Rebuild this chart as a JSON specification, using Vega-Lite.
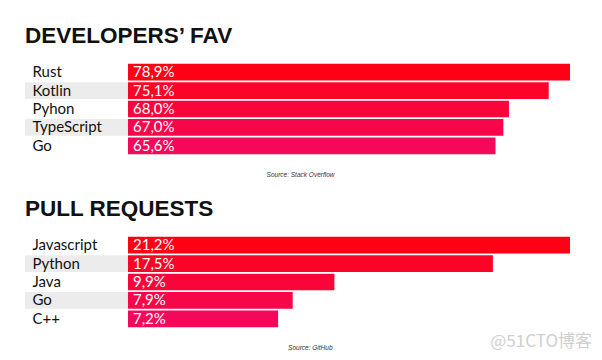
{
  "$schema": "https://vega.github.io/schema/vega-lite/v6.json",
  "background": "white",
  "padding": {"left": 25, "top": 24, "right": 5, "bottom": 5},
  "datasets": {
    "dev": [
      {"rank": 1, "name": "Rust", "value": 78.9, "label": "78,9%"},
      {"rank": 2, "name": "Kotlin", "value": 75.1, "label": "75,1%"},
      {"rank": 3, "name": "Pyhon", "value": 68.0, "label": "68,0%"},
      {"rank": 4, "name": "TypeScript", "value": 67.0, "label": "67,0%"},
      {"rank": 5, "name": "Go", "value": 65.6, "label": "65,6%"}
    ],
    "pr": [
      {"rank": 1, "name": "Javascript", "value": 21.2, "label": "21,2%"},
      {"rank": 2, "name": "Python", "value": 17.5, "label": "17,5%"},
      {"rank": 3, "name": "Java", "value": 9.9, "label": "9,9%"},
      {"rank": 4, "name": "Go", "value": 7.9, "label": "7,9%"},
      {"rank": 5, "name": "C++", "value": 7.2, "label": "7,2%"}
    ]
  },
  "title": {
    "text": "@51CTO博客",
    "orient": "bottom",
    "anchor": "end",
    "font": "Noto Sans CJK SC",
    "fontSize": 17,
    "fontWeight": "normal",
    "color": "#cfcfcf",
    "offset": -16.5,
    "dx": 22
  },
  "spacing": 19,
  "vconcat": [
    {
      "title": {"text": "DEVELOPERS’ FAV", "anchor": "start", "font": "Liberation Sans", "fontWeight": "bold", "fontSize": 22.5, "color": "#111111", "offset": 16},
      "bounds": "flush",
      "spacing": 0,
      "hconcat": [
        {
          "data": {"name": "dev"},
          "width": 103,
          "height": 92,
          "mark": {"type": "bar"},
          "encoding": {
            "y": {"field": "name", "type": "nominal", "sort": null, "axis": null, "scale": {"paddingInner": 0.09, "paddingOuter": 0.045}},
            "color": {"condition": {"test": "datum.rank % 2 == 0", "value": "#ececec"}, "value": "#ffffff"}
          }
        },
        {
          "data": {"name": "dev"},
          "width": 442,
          "height": 92,
          "encoding": {
            "y": {"field": "name", "type": "nominal", "sort": null, "scale": {"paddingInner": 0.09, "paddingOuter": 0.045},
              "axis": {"title": null, "domain": false, "ticks": false, "labelAlign": "left", "labelPadding": 96, "labelFont": "Lato", "labelFontSize": 15, "labelColor": "#111111"}}
          },
          "layer": [
            {
              "mark": {"type": "bar"},
              "encoding": {
                "x": {"field": "value", "type": "quantitative", "scale": {"nice": false},
                  "axis": {"title": "Source: Stack Overflow", "labels": false, "ticks": false, "domain": false, "grid": false, "titleFont": "Liberation Sans", "titleFontStyle": "italic", "titleFontWeight": "normal", "titleFontSize": 6.5, "titleColor": "#333333", "titlePadding": 16, "titleAlign": "right", "titleX": 206}},
                "color": {"field": "rank", "type": "ordinal", "legend": null, "scale": {"range": ["#ff0014", "#fc0328", "#f9053a", "#f7064a", "#f5075a"]}}
              }
            },
            {
              "mark": {"type": "text", "align": "left", "baseline": "middle", "dx": 5, "color": "white", "font": "Lato", "fontSize": 15},
              "encoding": {
                "x": {"datum": 0, "type": "quantitative"},
                "text": {"field": "label"}
              }
            }
          ]
        }
      ]
    },
    {
      "title": {"text": "PULL REQUESTS", "anchor": "start", "font": "Liberation Sans", "fontWeight": "bold", "fontSize": 22.5, "color": "#111111", "offset": 16},
      "bounds": "flush",
      "spacing": 0,
      "hconcat": [
        {
          "data": {"name": "pr"},
          "width": 103,
          "height": 92,
          "mark": {"type": "bar"},
          "encoding": {
            "y": {"field": "name", "type": "nominal", "sort": null, "axis": null, "scale": {"paddingInner": 0.09, "paddingOuter": 0.045}},
            "color": {"condition": {"test": "datum.rank % 2 == 0", "value": "#ececec"}, "value": "#ffffff"}
          }
        },
        {
          "data": {"name": "pr"},
          "width": 442,
          "height": 92,
          "encoding": {
            "y": {"field": "name", "type": "nominal", "sort": null, "scale": {"paddingInner": 0.09, "paddingOuter": 0.045},
              "axis": {"title": null, "domain": false, "ticks": false, "labelAlign": "left", "labelPadding": 96, "labelFont": "Lato", "labelFontSize": 15, "labelColor": "#111111"}}
          },
          "layer": [
            {
              "mark": {"type": "bar"},
              "encoding": {
                "x": {"field": "value", "type": "quantitative", "scale": {"nice": false},
                  "axis": {"title": "Source: GitHub", "labels": false, "ticks": false, "domain": false, "grid": false, "titleFont": "Liberation Sans", "titleFontStyle": "italic", "titleFontWeight": "normal", "titleFontSize": 6.5, "titleColor": "#333333", "titlePadding": 16, "titleAlign": "right", "titleX": 204}},
                "color": {"field": "rank", "type": "ordinal", "legend": null, "scale": {"range": ["#ff0014", "#fc0328", "#f9053a", "#f7064a", "#f5075a"]}}
              }
            },
            {
              "mark": {"type": "text", "align": "left", "baseline": "middle", "dx": 5, "color": "white", "font": "Lato", "fontSize": 15},
              "encoding": {
                "x": {"datum": 0, "type": "quantitative"},
                "text": {"field": "label"}
              }
            }
          ]
        }
      ]
    }
  ],
  "config": {"view": {"stroke": null}}
}
